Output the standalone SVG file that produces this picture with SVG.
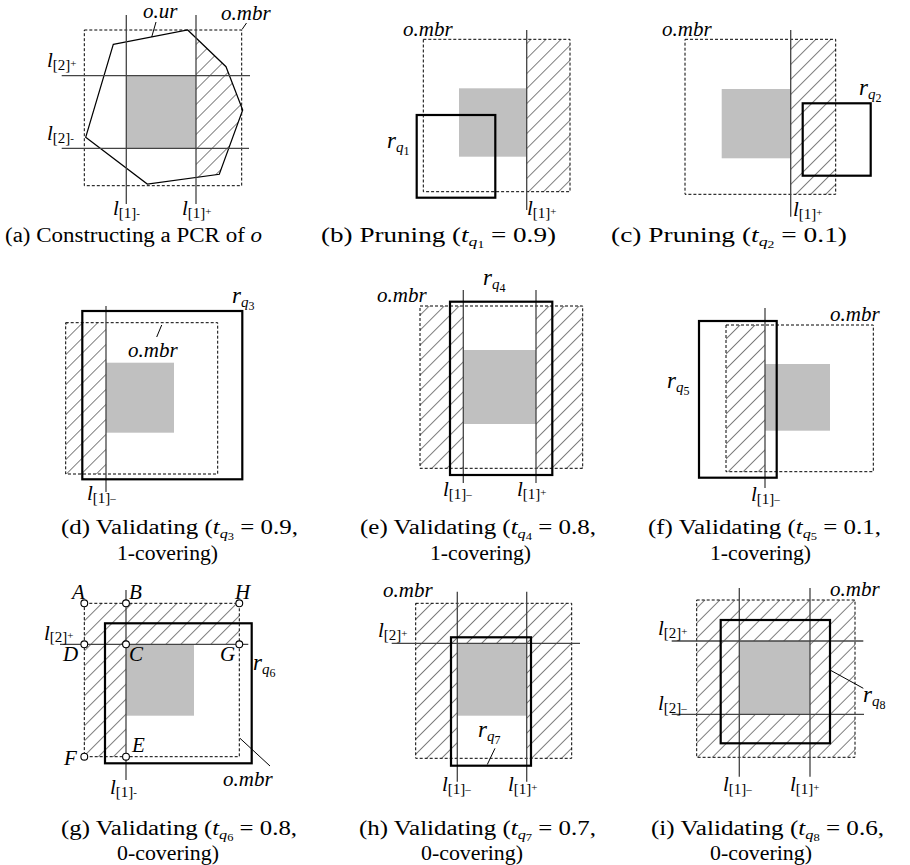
<svg xmlns="http://www.w3.org/2000/svg" width="910" height="865" viewBox="0 0 910 865">
<defs>
<pattern id="hatch" patternUnits="userSpaceOnUse" width="10.6" height="10.6" patternTransform="rotate(45)">
<line x1="0" y1="-1" x2="0" y2="12" stroke="#000" stroke-width="1"/>
</pattern>
<style>
text{font-family:'Liberation Serif','Times New Roman',Times,serif}
.hf{fill:url(#hatch);stroke:none}
.gr{fill:#c0c0c0;stroke:none}
.dash{fill:none;stroke:#000;stroke-width:1;stroke-dasharray:3 2}
.bold{fill:none;stroke:#000;stroke-width:2.2}
.ln{stroke:#444;stroke-width:1.3;fill:none}
.ld{stroke:#000;stroke-width:1;fill:none}
.pt{fill:#fff;stroke:#000;stroke-width:1.1}
.lab{font-size:21px;fill:#000}
.it{font-style:italic}
.sub{font-size:15px;font-style:normal}
.sm{font-size:11px;font-style:normal}
.rq{font-size:15px;font-style:italic}
.rn{font-size:12px;font-style:normal}
.cap{font-size:20px;fill:#000}
.cq{font-size:13px;font-style:italic}
.cn{font-size:10px;font-style:normal}
</style>
</defs>
<rect x="0" y="0" width="910" height="865" fill="#fff"/>

<!-- (a) -->
<g id="panel-a">
<polygon class="hf" points="196,38 226,66.7 242.7,110 219.3,174.3 196,177.4"/>
<rect class="gr" x="126" y="75.7" width="70" height="72.6"/>
<rect class="dash" x="84.3" y="30" width="157.4" height="155.7"/>
<polygon points="113.3,44.3 187.7,30 226,66.7 242.7,110 219.3,174.3 147.3,184 85.7,137.3" fill="none" stroke="#000" stroke-width="1.2"/>
<line class="ln" x1="126.3" y1="15" x2="126.3" y2="204"/>
<line class="ln" x1="196" y1="15" x2="196" y2="204"/>
<line class="ln" x1="61.7" y1="75.7" x2="250" y2="75.7"/>
<line class="ln" x1="61.7" y1="148.3" x2="249" y2="148.3"/>
<line class="ld" x1="156" y1="22" x2="151.7" y2="37"/>
<line class="ld" x1="246.5" y1="23" x2="242" y2="29.5"/>
<text class="lab it" x="143" y="18">o.ur</text>
<text class="lab it" x="221" y="20">o.mbr</text>
<text class="lab" x="47" y="67"><tspan class="it">l</tspan><tspan class="sub" dy="3">[2]</tspan><tspan class="sm" dy="-3">+</tspan></text>
<text class="lab" x="47" y="140"><tspan class="it">l</tspan><tspan class="sub" dy="3">[2]</tspan><tspan class="sm" dy="-1">-</tspan></text>
<text class="lab" x="113" y="215"><tspan class="it">l</tspan><tspan class="sub" dy="3">[1]</tspan><tspan class="sm" dy="-1">-</tspan></text>
<text class="lab" x="182" y="215"><tspan class="it">l</tspan><tspan class="sub" dy="3">[1]</tspan><tspan class="sm" dy="-3">+</tspan></text>
</g>

<!-- (b) -->
<g id="panel-b">
<rect class="hf" x="526.7" y="39.3" width="43.3" height="152.4"/>
<rect class="gr" x="459" y="88.3" width="67.7" height="68.4"/>
<rect class="dash" x="423.3" y="39.3" width="146.7" height="152.4"/>
<line class="ln" x1="526.7" y1="30" x2="526.7" y2="210"/>
<rect class="bold" x="416.7" y="115" width="78.6" height="82.7"/>
<text class="lab it" x="403" y="36">o.mbr</text>
<text class="lab" x="387" y="148"><tspan class="it" font-size="23">r</tspan><tspan class="rq" dy="4">q</tspan><tspan class="rn" dy="3">1</tspan></text>
<text class="lab" x="527" y="215"><tspan class="it">l</tspan><tspan class="sub" dy="3">[1]</tspan><tspan class="sm" dy="-3">+</tspan></text>
</g>

<!-- (c) -->
<g id="panel-c">
<rect class="hf" x="790.7" y="39.3" width="45" height="155"/>
<rect class="gr" x="721.7" y="89" width="69" height="69.3"/>
<rect class="dash" x="685" y="39.3" width="150.7" height="155"/>
<line class="ln" x1="790.7" y1="30" x2="790.7" y2="216.7"/>
<rect class="bold" x="802.7" y="103.3" width="68" height="72.4"/>
<text class="lab it" x="662" y="36">o.mbr</text>
<text class="lab" x="859" y="95"><tspan class="it" font-size="23">r</tspan><tspan class="rq" dy="4">q</tspan><tspan class="rn" dy="3">2</tspan></text>
<text class="lab" x="793" y="216"><tspan class="it">l</tspan><tspan class="sub" dy="3">[1]</tspan><tspan class="sm" dy="-3">+</tspan></text>
</g>

<!-- (d) -->
<g id="panel-d">
<rect class="hf" x="65.7" y="322.7" width="40.3" height="151.3"/>
<rect class="gr" x="106" y="362.7" width="68" height="70"/>
<rect class="dash" x="65.7" y="322.7" width="152" height="151.3"/>
<line class="ln" x1="106" y1="306" x2="106" y2="492"/>
<rect class="bold" x="82.3" y="311" width="160" height="168.3"/>
<line class="ld" x1="161.7" y1="325" x2="156.7" y2="337"/>
<text class="lab it" x="128" y="357">o.mbr</text>
<text class="lab" x="232" y="303"><tspan class="it" font-size="23">r</tspan><tspan class="rq" dy="4">q</tspan><tspan class="rn" dy="3">3</tspan></text>
<text class="lab" x="87" y="500"><tspan class="it">l</tspan><tspan class="sub" dy="3">[1]</tspan><tspan class="sm" dy="-1">–</tspan></text>
</g>

<!-- (e) -->
<g id="panel-e">
<rect class="hf" x="420" y="306" width="43.3" height="162.3"/>
<rect class="hf" x="536" y="306" width="46.7" height="162.3"/>
<rect class="gr" x="463.3" y="350" width="72.7" height="74"/>
<rect class="dash" x="420" y="306" width="162.7" height="162.3"/>
<line class="ln" x1="463.3" y1="290" x2="463.3" y2="483"/>
<line class="ln" x1="536" y1="290" x2="536" y2="483"/>
<rect class="bold" x="450" y="301.7" width="102.3" height="173.3"/>
<text class="lab it" x="377" y="302">o.mbr</text>
<text class="lab" x="483" y="285"><tspan class="it" font-size="23">r</tspan><tspan class="rq" dy="4">q</tspan><tspan class="rn" dy="3">4</tspan></text>
<text class="lab" x="443" y="496"><tspan class="it">l</tspan><tspan class="sub" dy="3">[1]</tspan><tspan class="sm" dy="-1">–</tspan></text>
<text class="lab" x="517" y="496"><tspan class="it">l</tspan><tspan class="sub" dy="3">[1]</tspan><tspan class="sm" dy="-3">+</tspan></text>
</g>

<!-- (f) -->
<g id="panel-f">
<rect class="hf" x="726" y="325" width="39" height="146.7"/>
<rect class="gr" x="765" y="364" width="65" height="66.7"/>
<rect class="dash" x="726" y="325" width="147.3" height="146.7"/>
<line class="ln" x1="765" y1="308" x2="765" y2="488"/>
<rect class="bold" x="699" y="321" width="77.7" height="156.7"/>
<text class="lab it" x="830" y="321">o.mbr</text>
<text class="lab" x="667" y="388"><tspan class="it" font-size="23">r</tspan><tspan class="rq" dy="4">q</tspan><tspan class="rn" dy="3">5</tspan></text>
<text class="lab" x="751" y="501"><tspan class="it">l</tspan><tspan class="sub" dy="3">[1]</tspan><tspan class="sm" dy="-1">–</tspan></text>
</g>

<!-- (g) -->
<g id="panel-g">
<path class="hf" d="M84.3,603.3 H239.3 V644.3 H126 V756.7 H84.3 Z"/>
<rect class="gr" x="126" y="644.3" width="68" height="71.4"/>
<rect class="dash" x="84.3" y="603.3" width="155" height="153.4"/>
<line class="ln" x1="126" y1="590" x2="126" y2="780"/>
<line class="ln" x1="60" y1="644.3" x2="248.3" y2="644.3"/>
<rect class="bold" x="105" y="623.3" width="146.7" height="140"/>
<line class="ld" x1="240" y1="738.3" x2="270" y2="766"/>
<circle class="pt" cx="84.3" cy="603.3" r="3.4"/>
<circle class="pt" cx="126" cy="603.3" r="3.4"/>
<circle class="pt" cx="239.3" cy="603.3" r="3.4"/>
<circle class="pt" cx="84.3" cy="644.3" r="3.4"/>
<circle class="pt" cx="126" cy="644.3" r="3.4"/>
<circle class="pt" cx="239.3" cy="644.3" r="3.4"/>
<circle class="pt" cx="84.3" cy="756.7" r="3.4"/>
<circle class="pt" cx="126" cy="756.7" r="3.4"/>
<text class="lab it" x="72" y="599">A</text>
<text class="lab it" x="129" y="599">B</text>
<text class="lab it" x="235" y="599">H</text>
<text class="lab it" x="63" y="661">D</text>
<text class="lab it" x="129" y="661">C</text>
<text class="lab it" x="220" y="661">G</text>
<text class="lab it" x="64" y="765">F</text>
<text class="lab it" x="132" y="752">E</text>
<text class="lab" x="44" y="640"><tspan class="it">l</tspan><tspan class="sub" dy="2">[2]</tspan><tspan class="sm" dy="-3">+</tspan></text>
<text class="lab" x="253" y="670"><tspan class="it" font-size="23">r</tspan><tspan class="rq" dy="4">q</tspan><tspan class="rn" dy="3">6</tspan></text>
<text class="lab it" x="223" y="786">o.mbr</text>
<text class="lab" x="110" y="794"><tspan class="it">l</tspan><tspan class="sub" dy="3">[1]</tspan><tspan class="sm" dy="-1">-</tspan></text>
</g>

<!-- (h) -->
<g id="panel-h">
<path class="hf" d="M415.7,603.3 H571.7 V758.3 H526.7 V643.3 H457.3 V758.3 H415.7 Z"/>
<rect class="gr" x="457.3" y="643.3" width="69.4" height="72.4"/>
<rect class="dash" x="415.7" y="603.3" width="156" height="155"/>
<line class="ln" x1="457.3" y1="591.7" x2="457.3" y2="781.7"/>
<line class="ln" x1="526.7" y1="591.7" x2="526.7" y2="781.7"/>
<line class="ln" x1="391.7" y1="643.3" x2="580" y2="643.3"/>
<rect class="bold" x="451" y="637.3" width="80" height="128.4"/>
<line class="ld" x1="495" y1="748.3" x2="487.3" y2="764.5"/>
<text class="lab it" x="383" y="597">o.mbr</text>
<text class="lab" x="378" y="637"><tspan class="it">l</tspan><tspan class="sub" dy="3">[2]</tspan><tspan class="sm" dy="-3">+</tspan></text>
<text class="lab" x="478" y="737"><tspan class="it" font-size="23">r</tspan><tspan class="rq" dy="4">q</tspan><tspan class="rn" dy="3">7</tspan></text>
<text class="lab" x="442" y="791"><tspan class="it">l</tspan><tspan class="sub" dy="3">[1]</tspan><tspan class="sm" dy="-1">–</tspan></text>
<text class="lab" x="508" y="791"><tspan class="it">l</tspan><tspan class="sub" dy="3">[1]</tspan><tspan class="sm" dy="-3">+</tspan></text>
</g>

<!-- (i) -->
<g id="panel-i">
<path class="hf" fill-rule="evenodd" d="M696.7,600 H855 V757.3 H696.7 Z M739.3,641 V714.3 H810 V641 Z"/>
<rect class="gr" x="739.3" y="641" width="70.7" height="73.3"/>
<rect class="dash" x="696.7" y="600" width="158.3" height="157.3"/>
<line class="ln" x1="739.3" y1="588" x2="739.3" y2="776.7"/>
<line class="ln" x1="810" y1="588" x2="810" y2="776.7"/>
<line class="ln" x1="671.7" y1="641" x2="863.3" y2="641"/>
<line class="ln" x1="671.7" y1="714.3" x2="864" y2="714.3"/>
<rect class="bold" x="720.7" y="620" width="109.3" height="123.3"/>
<line class="ld" x1="830" y1="670" x2="863.3" y2="688.3"/>
<text class="lab it" x="830" y="596">o.mbr</text>
<text class="lab" x="658" y="635"><tspan class="it">l</tspan><tspan class="sub" dy="3">[2]</tspan><tspan class="sm" dy="-3">+</tspan></text>
<text class="lab" x="658" y="710"><tspan class="it">l</tspan><tspan class="sub" dy="3">[2]</tspan><tspan class="sm" dy="-1">–</tspan></text>
<text class="lab" x="863" y="702"><tspan class="it" font-size="23">r</tspan><tspan class="rq" dy="4">q</tspan><tspan class="rn" dy="3">8</tspan></text>
<text class="lab" x="723" y="791"><tspan class="it">l</tspan><tspan class="sub" dy="3">[1]</tspan><tspan class="sm" dy="-1">–</tspan></text>
<text class="lab" x="790" y="791"><tspan class="it">l</tspan><tspan class="sub" dy="3">[1]</tspan><tspan class="sm" dy="-3">+</tspan></text>
</g>

<!-- captions -->
<g id="captions">
<text class="cap" x="5" y="242" textLength="257" lengthAdjust="spacingAndGlyphs">(a) Constructing a PCR of <tspan class="it">o</tspan></text>
<text class="cap" x="321" y="242" textLength="235" lengthAdjust="spacingAndGlyphs">(b) Pruning (<tspan class="it">t</tspan><tspan class="cq" dy="4">q</tspan><tspan class="cn" dy="2">1</tspan><tspan dy="-6"> = 0.9)</tspan></text>
<text class="cap" x="611" y="242" textLength="236" lengthAdjust="spacingAndGlyphs">(c) Pruning (<tspan class="it">t</tspan><tspan class="cq" dy="4">q</tspan><tspan class="cn" dy="2">2</tspan><tspan dy="-6"> = 0.1)</tspan></text>

<text class="cap" x="61" y="534" textLength="237" lengthAdjust="spacingAndGlyphs">(d) Validating (<tspan class="it">t</tspan><tspan class="cq" dy="4">q</tspan><tspan class="cn" dy="2">3</tspan><tspan dy="-6"> = 0.9,</tspan></text>
<text class="cap" x="117" y="560" textLength="101" lengthAdjust="spacingAndGlyphs">1-covering)</text>
<text class="cap" x="360" y="534" textLength="236" lengthAdjust="spacingAndGlyphs">(e) Validating (<tspan class="it">t</tspan><tspan class="cq" dy="4">q</tspan><tspan class="cn" dy="2">4</tspan><tspan dy="-6"> = 0.8,</tspan></text>
<text class="cap" x="430" y="560" textLength="101" lengthAdjust="spacingAndGlyphs">1-covering)</text>
<text class="cap" x="648" y="534" textLength="233" lengthAdjust="spacingAndGlyphs">(f) Validating (<tspan class="it">t</tspan><tspan class="cq" dy="4">q</tspan><tspan class="cn" dy="2">5</tspan><tspan dy="-6"> = 0.1,</tspan></text>
<text class="cap" x="710" y="560" textLength="101" lengthAdjust="spacingAndGlyphs">1-covering)</text>

<text class="cap" x="61" y="835" textLength="236" lengthAdjust="spacingAndGlyphs">(g) Validating (<tspan class="it">t</tspan><tspan class="cq" dy="4">q</tspan><tspan class="cn" dy="2">6</tspan><tspan dy="-6"> = 0.8,</tspan></text>
<text class="cap" x="117" y="860" textLength="102" lengthAdjust="spacingAndGlyphs">0-covering)</text>
<text class="cap" x="359" y="835" textLength="237" lengthAdjust="spacingAndGlyphs">(h) Validating (<tspan class="it">t</tspan><tspan class="cq" dy="4">q</tspan><tspan class="cn" dy="2">7</tspan><tspan dy="-6"> = 0.7,</tspan></text>
<text class="cap" x="421" y="860" textLength="102" lengthAdjust="spacingAndGlyphs">0-covering)</text>
<text class="cap" x="651" y="835" textLength="233" lengthAdjust="spacingAndGlyphs">(i) Validating (<tspan class="it">t</tspan><tspan class="cq" dy="4">q</tspan><tspan class="cn" dy="2">8</tspan><tspan dy="-6"> = 0.6,</tspan></text>
<text class="cap" x="710" y="860" textLength="102" lengthAdjust="spacingAndGlyphs">0-covering)</text>
</g>
</svg>
